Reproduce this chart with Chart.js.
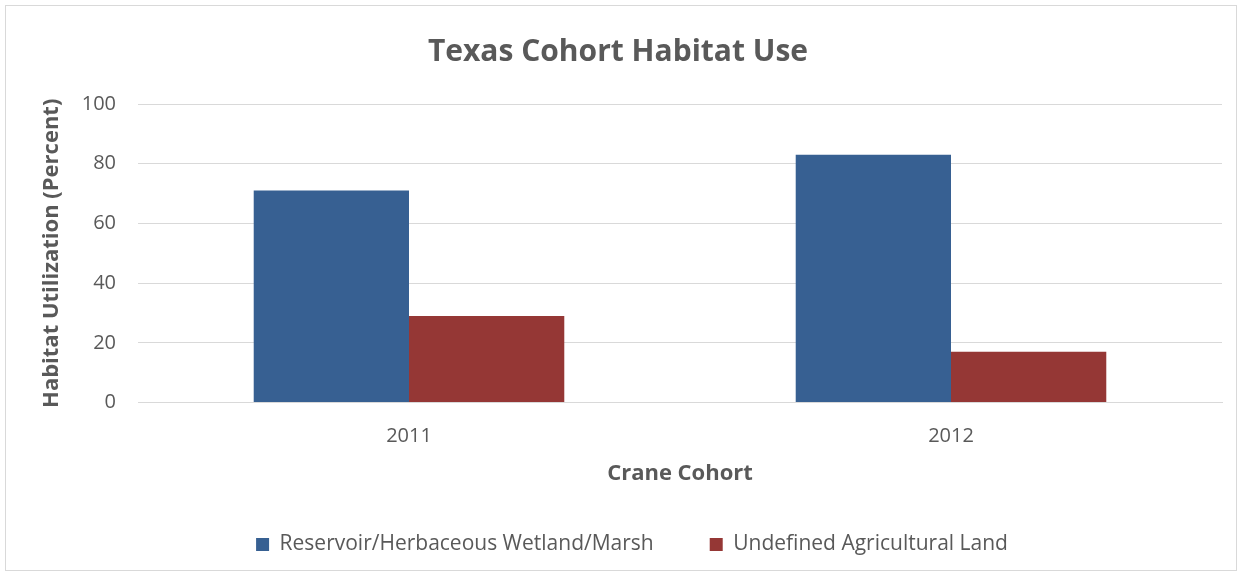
<!DOCTYPE html>
<html>
<head>
<meta charset="utf-8">
<script src="https://cdn.jsdelivr.net/npm/chart.js@4/dist/chart.umd.min.js"></script>
<style>
  html, body { margin: 0; padding: 0; background: #fff; }
  #frame { position: absolute; left: 5px; top: 5px; width: 1232px; height: 566px; border: 1px solid #d9d9d9; box-sizing: border-box; }
  #wrap { position: absolute; left: 0; top: 0; width: 1243px; height: 578px; }
</style>
</head>
<body>
<div id="frame"></div>
<div id="wrap"><canvas id="chart"></canvas></div>
<script>
const cohorts = ['2011', '2012'];
const wetland = [71, 83];
const agricultural = [29, 17];
const seriesNames = ['Reservoir/Herbaceous Wetland/Marsh', 'Undefined Agricultural Land'];

const fontFamily = '"Open Sans", Lato, sans-serif';
const grey = '#595959';

// legend in the original sits a bit right of centre
const nudgeLegend = {
  id: 'nudgeLegend',
  afterLayout(chart) {
    if (chart.legend) {
      chart.legend.left += 14;
      chart.legend.right += 14;
    }
  }
};

new Chart(document.getElementById('chart').getContext('2d'), {
  type: 'bar',
  data: {
    labels: cohorts,
    datasets: [
      { label: seriesNames[0], data: wetland, backgroundColor: '#376092' },
      { label: seriesNames[1], data: agricultural, backgroundColor: '#953735' }
    ]
  },
  options: {
    responsive: true,
    maintainAspectRatio: false,
    animation: false,
    datasets: { bar: { barPercentage: 1, categoryPercentage: 0.573 } },
    layout: { padding: { left: 14, right: 21, top: 10, bottom: 13 } },
    scales: {
      x: {
        grid: { display: false },
        border: { color: '#d9d9d9' },
        ticks: { color: grey, font: { family: fontFamily, size: 20 }, padding: 14 },
        // negative padding pulls the legend up closer to the axis title
        title: { display: true, text: 'Crane Cohort', color: grey, font: { family: fontFamily, size: 22, weight: 'bold' }, padding: { top: -2, bottom: -9 } }
      },
      y: {
        min: 0, max: 100,
        afterFit: (scale) => { scale.width = 124; },
        ticks: { stepSize: 20, color: grey, font: { family: fontFamily, size: 20 }, padding: 22 },
        grid: { color: '#d9d9d9', drawTicks: false },
        border: { display: false },
        title: { display: true, text: 'Habitat Utilization (Percent)', color: grey, font: { family: fontFamily, size: 22, weight: 'bold' }, padding: { top: 25, bottom: 0 } }
      }
    },
    plugins: {
      title: { display: true, text: 'Texas Cohort Habitat Use', color: grey, font: { family: fontFamily, size: 30, weight: 'bold' }, padding: { top: 24, bottom: 34 } },
      legend: {
        position: 'bottom',
        labels: { color: grey, font: { family: fontFamily, size: 21 }, boxWidth: 13, boxHeight: 13, padding: 56 }
      },
      tooltip: { enabled: false }
    }
  },
  plugins: [nudgeLegend]
});
</script>
</body>
</html>
